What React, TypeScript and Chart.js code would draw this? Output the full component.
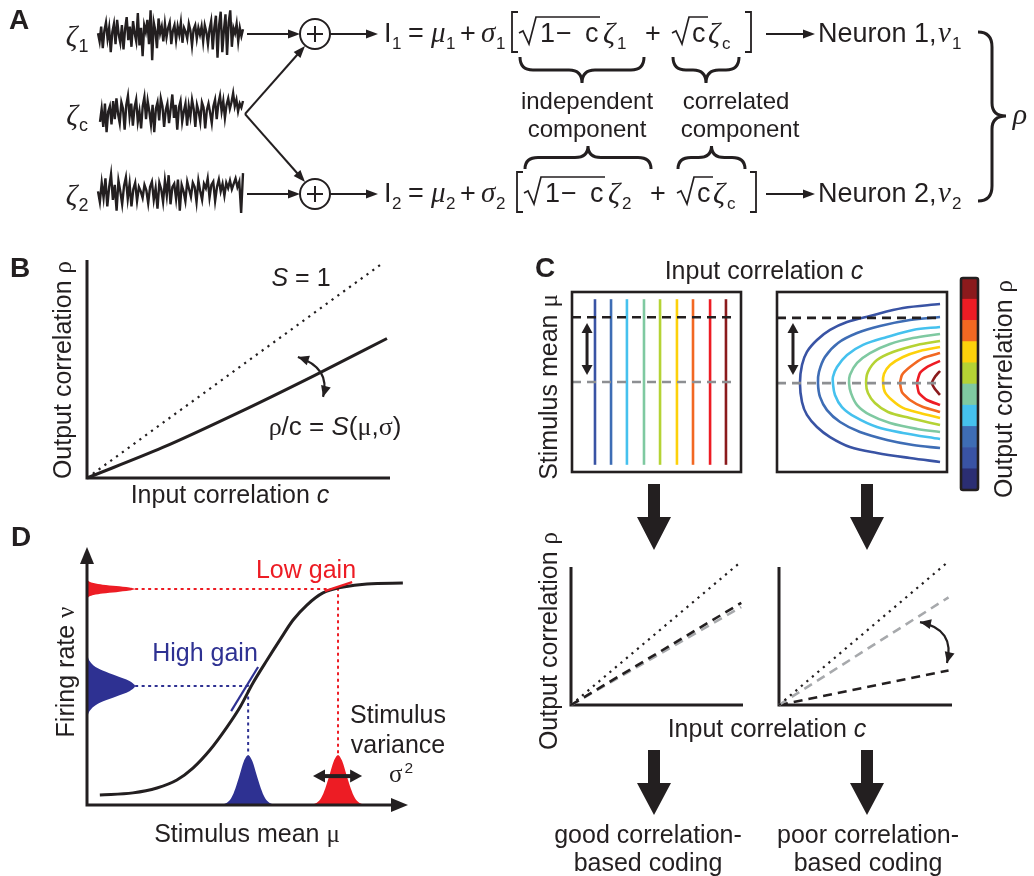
import React, { useEffect, useRef } from "react";
import { Chart, registerables } from "chart.js";
Chart.register(...registerables);

const SANS = '"Liberation Sans", Arial, Helvetica, sans-serif';
const SERIF = '"Liberation Serif", "DejaVu Serif", serif';
const INK = "#231f20";
const RED = "#ed1c24";
const BLUE = "#2e3192";

// ---------- Panel A: noise traces ----------
const zeta1 = [0.1,-0.2,0.35,-0.45,0.2,0.5,-0.1,0.3,-0.6,0.15,0.45,-0.3,0.6,0.05,-0.25,0.4,-0.5,0.25,0.7,-0.15,0.35,-0.4,0.55,0.1,-0.2,0.85,-0.35,0.3,-0.75,0.4,0.15,0.6,-0.3,0.95,-0.9,0.5,0.2,-0.45,0.65,0.1,0.35,-0.2,0.45,-0.05,0.3,0.5,-0.3,0.2,0.4,-0.15,0.35,0.05,0.5,-0.25,0.3,0.15,-0.1,0.45,0.2,-0.35,0.25,0.4,-0.1,0.3,0.05,0.35,-0.2,0.4,0.15,-0.3,0.25,0.55,-0.5,0.3,0.75,-0.8,0.4,0.9,-0.6,0.2,0.8,-0.7,0.5,0.95,-0.4,0.3,0.1,0.45,-0.2,0.3,0.0,0.25];
const zetaC = [-0.3,0.2,-0.5,0.4,-0.7,0.1,0.3,-0.4,0.5,-0.2,0.6,0.0,-0.35,0.45,0.2,-0.6,0.35,0.7,-0.1,0.4,-0.45,0.25,0.55,-0.3,0.1,-0.55,0.3,0.65,-0.2,0.5,0.1,-0.4,0.35,-0.7,0.2,0.45,-0.25,0.6,0.3,-0.5,0.15,0.4,-0.35,0.2,0.75,-0.15,0.35,-0.6,0.25,0.5,-0.3,0.1,0.4,-0.45,0.3,-0.1,0.55,0.2,-0.5,0.35,0.1,-0.3,0.45,0.25,-0.55,0.15,0.4,0.05,-0.35,0.3,0.55,-0.2,0.4,0.7,0.1,0.5,-0.15,0.35,0.6,0.2,0.45,0.8,0.3,0.55,0.1,0.4,0.25,0.5];
const zeta2 = [0.1,-0.4,0.5,-0.2,0.7,-0.6,0.3,0.9,-0.3,0.4,-0.8,0.6,0.1,-0.5,0.35,0.75,-0.25,0.45,-0.6,0.2,0.5,-0.35,0.3,0.1,-0.2,0.4,0.15,-0.45,0.3,0.55,-0.3,0.25,-0.7,0.5,0.2,-0.4,0.6,-0.1,0.85,-0.5,0.3,0.45,-0.25,0.65,-0.8,0.4,0.1,-0.35,0.55,0.2,-0.15,0.5,0.3,-0.4,0.6,0.1,-0.3,0.45,0.25,0.7,-0.2,0.4,0.55,-0.35,0.3,0.65,0.1,0.45,-0.1,0.5,0.25,0.6,0.2,0.45,0.7,0.3,0.55,-0.9,0.95];

// ---------- Panel B ----------
const bDotX = [0, 0.98];
const bDotY = [0, 0.99];
const bSolidX = [0, 0.25, 0.5, 0.75, 0.99];
const bSolidY = [0, 0.14, 0.3, 0.47, 0.64];
const bArrowX = [0.696, 0.805, 0.779];
const bArrowY = [0.555, 0.505, 0.372];

// ---------- Panel C ----------
const levelColors = ["#3953a4", "#3e6db5", "#45c1ee", "#7fc9a1", "#b5d334", "#fdd10b", "#f26822", "#ed1c24", "#8b1a1c"];
const colorbarColors = ["#2b2e73", ...levelColors];
const colorbarBands = [1, 1, 1, 1, 1, 1, 1, 1, 1, 1];
const leftLineC = [0.136, 0.231, 0.325, 0.426, 0.521, 0.621, 0.716, 0.817, 0.911];
const leftLineMu = [0.04, 0.96];
const dashMuBlackL = 0.86;
const dashMuGrayL = 0.5;
const dashMuBlackR = 0.856;
const dashMuGrayR = 0.494;
const dashEndL = 0.976;
const dashEndR = 0.97;
const arrowLeftC = 0.089;
const arrowRightC = 0.094;
const arrowMu = [0.828, 0.539];

const rcLevel1 = [[0.959,0.933],[0.741,0.911],[0.547,0.867],[0.412,0.833],[0.312,0.789],[0.235,0.733],[0.176,0.667],[0.147,0.594],[0.135,0.494],[0.147,0.389],[0.176,0.317],[0.235,0.25],[0.312,0.194],[0.429,0.139],[0.588,0.106],[0.782,0.078],[0.959,0.056]];
const rcLevel2 = [[0.959,0.861],[0.782,0.844],[0.606,0.811],[0.471,0.772],[0.359,0.717],[0.282,0.639],[0.247,0.556],[0.241,0.494],[0.253,0.417],[0.294,0.344],[0.371,0.278],[0.488,0.222],[0.647,0.178],[0.8,0.15],[0.959,0.133]];
const rcLevel3 = [[0.959,0.806],[0.8,0.789],[0.647,0.75],[0.506,0.706],[0.412,0.65],[0.353,0.583],[0.329,0.528],[0.329,0.494],[0.341,0.428],[0.382,0.361],[0.459,0.306],[0.588,0.25],[0.741,0.217],[0.959,0.183]];
const rcLevel4 = [[0.959,0.767],[0.8,0.744],[0.665,0.711],[0.547,0.661],[0.471,0.606],[0.429,0.539],[0.424,0.494],[0.435,0.439],[0.471,0.372],[0.547,0.317],[0.665,0.272],[0.824,0.239],[0.959,0.222]];
const rcLevel5 = [[0.959,0.728],[0.824,0.706],[0.682,0.667],[0.588,0.622],[0.535,0.556],[0.524,0.494],[0.535,0.439],[0.576,0.383],[0.653,0.333],[0.782,0.3],[0.959,0.261]];
const rcLevel6 = [[0.959,0.694],[0.841,0.672],[0.741,0.639],[0.665,0.594],[0.629,0.544],[0.624,0.494],[0.635,0.444],[0.676,0.4],[0.741,0.356],[0.841,0.328],[0.959,0.3]];
const rcLevel7 = [[0.959,0.661],[0.859,0.633],[0.782,0.583],[0.735,0.539],[0.724,0.494],[0.735,0.444],[0.782,0.4],[0.859,0.361],[0.959,0.333]];
const rcLevel8 = [[0.959,0.617],[0.882,0.583],[0.841,0.55],[0.824,0.494],[0.835,0.439],[0.882,0.4],[0.959,0.372]];
const rcLevel9 = [[0.959,0.561],[0.929,0.528],[0.912,0.494],[0.929,0.461],[0.959,0.428]];
const rcLevels = [rcLevel1, rcLevel2, rcLevel3, rcLevel4, rcLevel5, rcLevel6, rcLevel7, rcLevel8, rcLevel9];

const lowLX = [0, 0.99];
const lowLDotted = [0, 1.04];
const lowLBlack = [0, 0.74];
const lowLGray = [0, 0.71];
const lowRX = [0, 0.98];
const lowRDotted = [0, 1.04];
const lowRGray = [0, 0.78];
const lowRBlack = [0, 0.25];
const lowRArrowX = [0.815, 1.02, 0.971];
const lowRArrowY = [0.601, 0.55, 0.304];

// ---------- Panel D ----------
const sigX = [0.04, 0.143, 0.218, 0.28, 0.33, 0.383, 0.436, 0.477, 0.517, 0.561, 0.601, 0.642, 0.685, 0.735, 0.798, 0.872, 0.984];
const sigY = [0.039, 0.047, 0.066, 0.097, 0.143, 0.213, 0.302, 0.38, 0.473, 0.562, 0.64, 0.717, 0.775, 0.822, 0.845, 0.857, 0.86];
const blueBellX = [0.407, 0.422, 0.436, 0.449, 0.462, 0.476, 0.489, 0.502, 0.515, 0.528, 0.542, 0.555, 0.568, 0.582, 0.597];
const redBellX = [0.687, 0.702, 0.716, 0.729, 0.742, 0.756, 0.769, 0.782, 0.795, 0.808, 0.822, 0.835, 0.848, 0.862, 0.877];
const bellY = [0, 0.002, 0.0085, 0.026, 0.063, 0.118, 0.171, 0.194, 0.171, 0.118, 0.063, 0.026, 0.0085, 0.002, 0];
const sideBellX = [0, 0.0017, 0.0066, 0.0203, 0.0487, 0.091, 0.1324, 0.15, 0.1324, 0.091, 0.0487, 0.0203, 0.0066, 0.0017, 0];
const redSideY = [0.797, 0.802, 0.808, 0.814, 0.82, 0.825, 0.831, 0.837, 0.843, 0.849, 0.854, 0.86, 0.866, 0.872, 0.877];
const blueSideY = [0.321, 0.341, 0.361, 0.381, 0.401, 0.421, 0.441, 0.461, 0.481, 0.501, 0.521, 0.541, 0.561, 0.581, 0.601];
const redGuideX = [0.15, 0.782, 0.782];
const redGuideY = [0.837, 0.837, 0.194];
const blueGuideX = [0.15, 0.502, 0.502];
const blueGuideY = [0.461, 0.461, 0.194];
const blueTanX = [0.449, 0.533];
const blueTanY = [0.364, 0.535];
const redTanX = [0.741, 0.826];
const redTanY = [0.829, 0.864];
const varArrowX = [0.704, 0.857];
const varArrowY = 0.112;

// ---------- helpers ----------
type Pt = { x: number; y: number };
const zip = (xs: number[], ys: number[]): Pt[] => xs.map((x, i) => ({ x, y: ys[i] }));
const pairs = (a: number[][]): Pt[] => a.map(([x, y]) => ({ x, y }));

function lineDs(data: Pt[], color: string, width: number, dash: number[] = [], extra: any = {}) {
  return { data, showLine: true, borderColor: color, backgroundColor: color, borderWidth: width, borderDash: dash, pointRadius: 0, tension: 0, clip: false, fill: false, borderCapStyle: "butt", ...extra };
}

function scatterConfig(datasets: any[], xr: number[], yr: number[], pad: number, plugins: any[] = []) {
  return {
    type: "scatter",
    data: { datasets },
    options: {
      responsive: false, maintainAspectRatio: false, animation: false, devicePixelRatio: 1, events: [],
      layout: { padding: pad },
      plugins: { legend: { display: false }, tooltip: { enabled: false }, title: { display: false } },
      scales: {
        x: { type: "linear", min: xr[0], max: xr[1], display: false },
        y: { type: "linear", min: yr[0], max: yr[1], display: false },
      },
    },
    plugins,
  };
}

function head(ctx: CanvasRenderingContext2D, x: number, y: number, ang: number, len = 11, half = 5) {
  ctx.beginPath();
  ctx.moveTo(x, y);
  ctx.lineTo(x - len * Math.cos(ang) + half * Math.sin(ang), y - len * Math.sin(ang) - half * Math.cos(ang));
  ctx.lineTo(x - len * Math.cos(ang) - half * Math.sin(ang), y - len * Math.sin(ang) + half * Math.cos(ang));
  ctx.closePath();
  ctx.fill();
}

function px(chart: any, x: number, y: number) {
  return [chart.scales.x.getPixelForValue(x), chart.scales.y.getPixelForValue(y)];
}

function curvedArrow(chart: any, xs: number[], ys: number[]) {
  const ctx = chart.ctx as CanvasRenderingContext2D;
  const p = xs.map((x, i) => px(chart, x, ys[i]));
  ctx.save();
  ctx.strokeStyle = INK; ctx.fillStyle = INK; ctx.lineWidth = 2.2;
  ctx.beginPath(); ctx.moveTo(p[0][0], p[0][1]); ctx.quadraticCurveTo(p[1][0], p[1][1], p[2][0], p[2][1]); ctx.stroke();
  head(ctx, p[0][0], p[0][1], Math.atan2(p[0][1] - p[1][1], p[0][0] - p[1][0]), 11, 5);
  head(ctx, p[2][0], p[2][1], Math.atan2(p[2][1] - p[1][1], p[2][0] - p[1][0]), 11, 5);
  ctx.restore();
}

function doubleArrow(chart: any, x1: number, y1: number, x2: number, y2: number, w: number, len: number, half: number) {
  const ctx = chart.ctx as CanvasRenderingContext2D;
  const a = px(chart, x1, y1), b = px(chart, x2, y2);
  const ang = Math.atan2(b[1] - a[1], b[0] - a[0]);
  ctx.save();
  ctx.strokeStyle = INK; ctx.fillStyle = INK; ctx.lineWidth = w;
  ctx.beginPath();
  ctx.moveTo(a[0] + (len - 2) * Math.cos(ang), a[1] + (len - 2) * Math.sin(ang));
  ctx.lineTo(b[0] - (len - 2) * Math.cos(ang), b[1] - (len - 2) * Math.sin(ang));
  ctx.stroke();
  head(ctx, b[0], b[1], ang, len, half);
  head(ctx, a[0], a[1], ang + Math.PI, len, half);
  ctx.restore();
}

const lAxes = (w: number) => ({
  id: "lAxes",
  beforeDatasetsDraw(chart: any) {
    const { ctx, chartArea: a } = chart;
    ctx.save(); ctx.strokeStyle = INK; ctx.lineWidth = w; ctx.lineCap = "butt";
    ctx.beginPath(); ctx.moveTo(a.left, a.top); ctx.lineTo(a.left, a.bottom); ctx.lineTo(a.right, a.bottom); ctx.stroke();
    ctx.restore();
  },
});

const boxBorder = {
  id: "boxBorder",
  afterDatasetsDraw(chart: any) {
    const { ctx, chartArea: a } = chart;
    ctx.save(); ctx.strokeStyle = INK; ctx.lineWidth = 2.6;
    ctx.strokeRect(a.left, a.top, a.right - a.left, a.bottom - a.top);
    ctx.restore();
  },
};

function ChartBox({ left, top, width, height, pad = 14, make }: any) {
  const ref = useRef<HTMLCanvasElement>(null);
  useEffect(() => {
    const chart = new Chart(ref.current as HTMLCanvasElement, make(pad));
    return () => chart.destroy();
  }, []);
  const W = width + 2 * pad, H = height + 2 * pad;
  return <canvas ref={ref} width={W} height={H} style={{ position: "absolute", left: left - pad, top: top - pad, width: W, height: H }} />;
}

// ---------- chart factories ----------
const traceConfig = (vals: number[]) => (pad: number) => ({
  type: "line",
  data: { labels: vals.map((_, i) => i), datasets: [{ data: vals, borderColor: INK, borderWidth: 2.4, pointRadius: 0, tension: 0, clip: false }] },
  options: {
    responsive: false, animation: false, devicePixelRatio: 1, events: [], layout: { padding: pad },
    plugins: { legend: { display: false }, tooltip: { enabled: false } },
    scales: { x: { display: false }, y: { display: false, min: -1, max: 1 } },
  },
});

const panelB = (pad: number) =>
  scatterConfig(
    [lineDs(zip(bDotX, bDotY), INK, 2.2, [2.2, 5]), lineDs(zip(bSolidX, bSolidY), INK, 3, [], { cubicInterpolationMode: "monotone" })],
    [0, 1], [0, 1], pad,
    [lAxes(3), { id: "bArrow", afterDatasetsDraw: (c: any) => curvedArrow(c, bArrowX, bArrowY) }]
  );

const panelCLeft = (pad: number) =>
  scatterConfig(
    [
      lineDs(zip([0, dashEndL], [dashMuBlackL, dashMuBlackL]), INK, 2.6, [9, 6]),
      lineDs(zip([0, dashEndL], [dashMuGrayL, dashMuGrayL]), "#8d8f92", 2.6, [9, 6]),
      ...leftLineC.map((c, i) => lineDs(zip([c, c], leftLineMu), levelColors[i], 2.6)),
    ],
    [0, 1], [0, 1], pad,
    [boxBorder, { id: "aL", afterDatasetsDraw: (c: any) => doubleArrow(c, arrowLeftC, arrowMu[0], arrowLeftC, arrowMu[1], 3, 10, 5.5) }]
  );

const panelCRight = (pad: number) =>
  scatterConfig(
    [
      lineDs(zip([0, dashEndR], [dashMuBlackR, dashMuBlackR]), INK, 2.6, [9, 6]),
      lineDs(zip([0, dashEndR], [dashMuGrayR, dashMuGrayR]), "#8d8f92", 2.6, [9, 6]),
      ...rcLevels.map((lv, i) => lineDs(pairs(lv), levelColors[i], 2.6, [], { tension: i < 6 ? 0.35 : 0.15 })),
    ],
    [0, 1], [0, 1], pad,
    [boxBorder, { id: "aR", afterDatasetsDraw: (c: any) => doubleArrow(c, arrowRightC, arrowMu[0], arrowRightC, arrowMu[1], 3, 10, 5.5) }]
  );

const colorbar = (pad: number) => ({
  type: "bar",
  data: {
    labels: ["ρ"],
    datasets: colorbarColors.map((col, i) => ({ data: [colorbarBands[i]], backgroundColor: col, borderWidth: 0, barPercentage: 1, categoryPercentage: 1 })),
  },
  options: {
    responsive: false, animation: false, devicePixelRatio: 1, events: [], layout: { padding: pad },
    plugins: { legend: { display: false }, tooltip: { enabled: false } },
    scales: { x: { stacked: true, display: false }, y: { stacked: true, display: false, min: 0, max: 10 } },
  },
  plugins: [{
    id: "cbBorder",
    afterDatasetsDraw(chart: any) {
      const { ctx, chartArea: a } = chart;
      ctx.save(); ctx.strokeStyle = INK; ctx.lineWidth = 2.6;
      ctx.beginPath(); (ctx as any).roundRect(a.left, a.top, a.right - a.left, a.bottom - a.top, 2); ctx.stroke();
      ctx.restore();
    },
  }],
});

const lowLeft = (pad: number) =>
  scatterConfig(
    [
      lineDs(zip(lowLX, lowLDotted), INK, 2.2, [2.2, 5]),
      lineDs(zip(lowLX, lowLBlack), INK, 2.6, [9, 6]),
      lineDs(zip(lowLX, lowLGray), "#a7a9ac", 2.6, [9, 6]),
    ],
    [0, 1], [0, 1], pad, [lAxes(3)]
  );

const lowRight = (pad: number) =>
  scatterConfig(
    [
      lineDs(zip(lowRX, lowRDotted), INK, 2.2, [2.2, 5]),
      lineDs(zip(lowRX, lowRGray), "#a7a9ac", 2.6, [9, 6]),
      lineDs(zip(lowRX, lowRBlack), INK, 2.6, [9, 6]),
    ],
    [0, 1], [0, 1], pad,
    [lAxes(3), { id: "lrA", afterDatasetsDraw: (c: any) => curvedArrow(c, lowRArrowX, lowRArrowY) }]
  );

const panelD = (pad: number) =>
  scatterConfig(
    [
      lineDs(zip(blueTanX, blueTanY), BLUE, 2.2),
      lineDs(zip(redTanX, redTanY), RED, 2.2),
      lineDs(zip(sigX, sigY), INK, 3, [], { cubicInterpolationMode: "monotone" }),
      lineDs(zip(redGuideX, redGuideY), RED, 2, [3, 3.5]),
      lineDs(zip(blueGuideX, blueGuideY), BLUE, 2, [3, 3.5]),
      lineDs(zip(blueBellX, bellY), BLUE, 0, [], { fill: "shape", backgroundColor: BLUE, tension: 0.3 }),
      lineDs(zip(redBellX, bellY), RED, 0, [], { fill: "shape", backgroundColor: RED, tension: 0.3 }),
      lineDs(zip(sideBellX, redSideY), RED, 0, [], { fill: "shape", backgroundColor: RED, tension: 0.3 }),
      lineDs(zip(sideBellX, blueSideY), BLUE, 0, [], { fill: "shape", backgroundColor: BLUE, tension: 0.3 }),
    ],
    [0, 1], [0, 1], pad,
    [{
      id: "dAxes",
      afterDatasetsDraw(chart: any) {
        const { ctx, chartArea: a } = chart;
        ctx.save(); ctx.strokeStyle = INK; ctx.fillStyle = INK; ctx.lineWidth = 3;
        ctx.beginPath(); ctx.moveTo(a.left, a.top + 12); ctx.lineTo(a.left, a.bottom); ctx.lineTo(a.right - 12, a.bottom); ctx.stroke();
        head(ctx, a.left, a.top, -Math.PI / 2, 17, 7);
        head(ctx, a.right, a.bottom, 0, 17, 7);
        ctx.restore();
        doubleArrow(chart, varArrowX[0], varArrowY, varArrowX[1], varArrowY, 4, 12, 6.5);
      },
    }]
  );

// ---------- text helpers ----------
const Sub = ({ children }: any) => <span style={{ fontSize: "0.62em", position: "relative", top: "0.34em", fontFamily: SANS, fontStyle: "normal", marginLeft: 1 }}>{children}</span>;
const Sup = ({ children }: any) => <span style={{ fontSize: "0.62em", position: "relative", top: "-0.6em", fontFamily: SANS, marginLeft: 2 }}>{children}</span>;
const Gi = ({ children }: any) => <span style={{ fontFamily: SERIF, fontStyle: "italic" }}>{children}</span>;
const Gu = ({ children }: any) => <span style={{ fontFamily: SERIF }}>{children}</span>;

function Txt({ x, y, size = 25, color = INK, rot = false, weight = 400, children }: any) {
  return (
    <div style={{ position: "absolute", left: x, top: y, transform: `translate(-50%, -50%)${rot ? " rotate(-90deg)" : ""}`, fontSize: size, color, fontWeight: weight, fontFamily: SANS, whiteSpace: "nowrap", lineHeight: 1.15 }}>
      {children}
    </div>
  );
}

// formula piece placed on a baseline
function P({ x, base, size = 27, serif = false, italic = false, children }: any) {
  return (
    <span style={{ position: "absolute", left: x, top: base - 0.845 * size, fontSize: size, lineHeight: 1, fontFamily: serif ? SERIF : SANS, fontStyle: italic ? "italic" : "normal", whiteSpace: "nowrap", color: INK }}>
      {children}
    </span>
  );
}

function FormulaRow({ base, idx, s }: any) {
  const sub = (x: number, t: string) => <P x={x} base={base + 6} size={17}>{t}</P>;
  return (
    <>
      <P x={384} base={base}>I</P>{sub(392, idx)}
      <P x={408} base={base}>=</P>
      <P x={431} base={base} size={29} serif italic>μ</P>{sub(446, idx)}
      <P x={460} base={base}>+</P>
      <P x={481} base={base} size={29} serif italic>σ</P>{sub(496, idx)}
      <P x={540 + s} base={base}>1</P>
      <P x={556 + s} base={base}>−</P>
      <P x={585 + s} base={base}>c</P>
      <P x={603 + s} base={base} size={30} serif italic>ζ</P>{sub(617 + s, idx)}
      <P x={645 + s} base={base}>+</P>
      <P x={692 + s} base={base}>c</P>
      <P x={708 + s} base={base} size={30} serif italic>ζ</P>{sub(722 + s, "c")}
      <P x={818} base={base}>Neuron {idx},</P>
      <P x={938} base={base} size={29} serif italic>ν</P>{sub(952, idx)}
    </>
  );
}

function SvgArrow({ x1, y1, x2, y2, w = 2, len = 12, half = 4.5 }: any) {
  const a = Math.atan2(y2 - y1, x2 - x1);
  const bx = x2 - len * Math.cos(a), by = y2 - len * Math.sin(a);
  const p1 = [bx + half * Math.sin(a), by - half * Math.cos(a)];
  const p2 = [bx - half * Math.sin(a), by + half * Math.cos(a)];
  return (
    <g>
      <line x1={x1} y1={y1} x2={bx + Math.cos(a)} y2={by + Math.sin(a)} stroke={INK} strokeWidth={w} />
      <polygon points={`${x2},${y2} ${p1.join(",")} ${p2.join(",")}`} fill={INK} />
    </g>
  );
}

function Sum({ cx, cy }: any) {
  return (
    <g>
      <circle cx={cx} cy={cy} r={15} fill="#fff" stroke={INK} strokeWidth={2} />
      <line x1={cx - 8} y1={cy} x2={cx + 8} y2={cy} stroke={INK} strokeWidth={2} />
      <line x1={cx} y1={cy - 8} x2={cx} y2={cy + 8} stroke={INK} strokeWidth={2} />
    </g>
  );
}

function BigArrow({ cx, y0, y1, y2 }: any) {
  return <polygon points={`${cx - 6},${y0} ${cx + 6},${y0} ${cx + 6},${y1} ${cx + 17},${y1} ${cx},${y2} ${cx - 17},${y1} ${cx - 6},${y1}`} fill={INK} />;
}

// horizontal curly brace: ends at y0, tip at y1
function braceH(x1: number, x2: number, y0: number, y1: number) {
  const xm = (x1 + x2) / 2, mid = (y0 + y1) / 2, q = 13;
  return `M${x1},${y0} Q${x1},${mid} ${x1 + q},${mid} L${xm - q},${mid} Q${xm},${mid} ${xm},${y1} Q${xm},${mid} ${xm + q},${mid} L${x2 - q},${mid} Q${x2},${mid} ${x2},${y0}`;
}

function RowDecor({ base, s, up }: any) {
  const y = base - 9;
  const top = base - 31, bot = base + 9, ov = base - 26;
  return (
    <g fill="none" stroke={INK}>
      <path d={`M${518 + s},${top} L${512 + s},${top} L${512 + s},${bot} L${518 + s},${bot}`} strokeWidth={1.8} />
      <path d={`M${745 + s},${top} L${751 + s},${top} L${751 + s},${bot} L${745 + s},${bot}`} strokeWidth={1.8} />
      <path d={`M${519 + s},${base - 10} L${523 + s},${base - 12} L${529 + s},${base + 1} L${536 + s},${ov} L${600 + s},${ov}`} strokeWidth={1.7} />
      <path d={`M${672 + s},${base - 10} L${676 + s},${base - 12} L${682 + s},${base + 1} L${689 + s},${ov} L${708 + s},${ov}`} strokeWidth={1.7} />
      {up ? (
        <>
          <path d={braceH(520 + s, 646 + s, base - 34, base - 57)} strokeWidth={3} />
          <path d={braceH(673 + s, 740 + s, base - 34, base - 57)} strokeWidth={3} />
        </>
      ) : (
        <>
          <path d={braceH(520 + s, 644 + s, base + 14, base + 40)} strokeWidth={3} />
          <path d={braceH(673 + s, 739 + s, base + 14, base + 40)} strokeWidth={3} />
        </>
      )}
      <g stroke="none"><SvgArrow x1={766} y1={y} x2={815} y2={y} /></g>
    </g>
  );
}

const ROW1 = 43;
const ROW2 = 203;

function Diagram() {
  return (
    <svg width={1034} height={876} style={{ position: "absolute", left: 0, top: 0, pointerEvents: "none" }}>
      <SvgArrow x1={247} y1={34} x2={300} y2={34} />
      <Sum cx={315} cy={34} />
      <SvgArrow x1={330} y1={34} x2={378} y2={34} />
      <SvgArrow x1={247} y1={194} x2={300} y2={194} />
      <Sum cx={315} cy={194} />
      <SvgArrow x1={330} y1={194} x2={378} y2={194} />
      <SvgArrow x1={245} y1={114} x2={305} y2={46} />
      <SvgArrow x1={245} y1={114} x2={305} y2={182} />
      <RowDecor base={ROW1} s={0} up={false} />
      <RowDecor base={ROW2} s={5} up={true} />
      <path d="M978,32 Q992,32 992,47 L992,103 Q992,116 1006,116 Q992,116 992,129 L992,186 Q992,201 978,201" fill="none" stroke={INK} strokeWidth={3} />
      <BigArrow cx={654} y0={484} y1={517} y2={550} />
      <BigArrow cx={867} y0={484} y1={517} y2={550} />
      <BigArrow cx={654} y0={750} y1={783} y2={815} />
      <BigArrow cx={867} y0={750} y1={783} y2={815} />
    </svg>
  );
}

export default function App() {
  return (
    <div style={{ position: "absolute", left: 0, top: 0, width: 1034, height: 876, background: "#fff", overflow: "hidden", fontFamily: SANS, color: INK }}>
      {/* Panel A traces */}
      <ChartBox left={98} top={9} width={145} height={54} make={traceConfig(zeta1)} />
      <ChartBox left={100} top={88} width={143} height={52} make={traceConfig(zetaC)} />
      <ChartBox left={98} top={172} width={145} height={43} make={traceConfig(zeta2)} />
      {/* Panel B */}
      <ChartBox left={87} top={260} width={303} height={218} make={panelB} />
      {/* Panel C */}
      <ChartBox left={572} top={292} width={169} height={180} make={panelCLeft} />
      <ChartBox left={777} top={292} width={170} height={180} make={panelCRight} />
      <ChartBox left={961} top={278} width={17} height={212} make={colorbar} />
      <ChartBox left={571} top={567} width={172} height={138} make={lowLeft} />
      <ChartBox left={779} top={567} width={173} height={138} make={lowRight} />
      {/* Panel D */}
      <ChartBox left={87} top={547} width={321} height={258} make={panelD} />

      <Diagram />

      {/* Panel A text */}
      <Txt x={19} y={20} size={28} weight={700}>A</Txt>
      <Txt x={77} y={37} size={29}><Gi>ζ</Gi><Sub>1</Sub></Txt>
      <Txt x={77} y={116} size={29}><Gi>ζ</Gi><Sub>c</Sub></Txt>
      <Txt x={77} y={196} size={29}><Gi>ζ</Gi><Sub>2</Sub></Txt>
      <FormulaRow base={ROW1} idx="1" s={0} />
      <FormulaRow base={ROW2} idx="2" s={5} />
      <Txt x={587} y={101} size={24}>independent</Txt>
      <Txt x={587} y={129} size={24}>component</Txt>
      <Txt x={736} y={101} size={24}>correlated</Txt>
      <Txt x={740} y={129} size={24}>component</Txt>
      <Txt x={1020} y={114} size={30}><Gi>ρ</Gi></Txt>

      {/* Panel B text */}
      <Txt x={20} y={268} size={28} weight={700}>B</Txt>
      <Txt x={63} y={370} size={25} rot>Output correlation <Gu>ρ</Gu></Txt>
      <Txt x={230} y={494} size={25}>Input correlation <i>c</i></Txt>
      <Txt x={301} y={277} size={25}><i>S</i> = 1</Txt>
      <Txt x={335} y={427} size={26}><Gu>ρ</Gu>/c = <i>S</i>(<Gu>μ</Gu>,<Gu>σ</Gu>)</Txt>

      {/* Panel C text */}
      <Txt x={545} y={268} size={28} weight={700}>C</Txt>
      <Txt x={764} y={270} size={25}>Input correlation <i>c</i></Txt>
      <Txt x={549} y={387} size={25} rot>Stimulus mean <Gu>μ</Gu></Txt>
      <Txt x={1004} y={389} size={25} rot>Output correlation <Gu>ρ</Gu></Txt>
      <Txt x={549} y={641} size={25} rot>Output correlation <Gu>ρ</Gu></Txt>
      <Txt x={767} y={728} size={25}>Input correlation <i>c</i></Txt>
      <Txt x={648} y={834} size={25}>good correlation-</Txt>
      <Txt x={648} y={862} size={25}>based coding</Txt>
      <Txt x={868} y={834} size={25}>poor correlation-</Txt>
      <Txt x={868} y={862} size={25}>based coding</Txt>

      {/* Panel D text */}
      <Txt x={21} y={537} size={28} weight={700}>D</Txt>
      <Txt x={66} y={672} size={25} rot>Firing rate <Gu>ν</Gu></Txt>
      <Txt x={247} y={834} size={25}>Stimulus mean <Gu>μ</Gu></Txt>
      <Txt x={306} y={569} size={25} color={RED}>Low gain</Txt>
      <Txt x={205} y={652} size={25} color={BLUE}>High gain</Txt>
      <Txt x={398} y={714} size={25}>Stimulus</Txt>
      <Txt x={398} y={744} size={25}>variance</Txt>
      <Txt x={401} y={774} size={25}><Gu>σ</Gu><Sup>2</Sup></Txt>
    </div>
  );
}
